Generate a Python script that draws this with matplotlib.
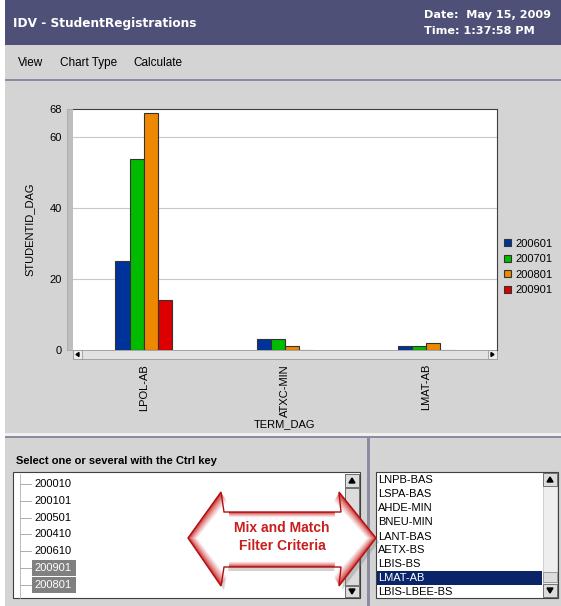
import numpy as np
import matplotlib
matplotlib.use("Agg")
import matplotlib.pyplot as plt
from matplotlib.patches import Rectangle, Polygon
from matplotlib.colors import to_rgb

# chart data
terms = ["LPOL-AB", "ATXC-MIN", "LMAT-AB"]
series = ["200601", "200701", "200801", "200901"]
v_200601 = [25, 3, 1]
v_200701 = [54, 3, 1]
v_200801 = [67, 1, 2]
v_200901 = [14, 0, 0]
colors = ["#003399", "#00BB00", "#EE8800", "#DD0000"]
yticks = [0, 20, 40, 60, 68]

# filter lists
left_items = ["200010", "200101", "200501", "200410", "200610", "200901", "200801"]
left_selected = ["200901", "200801"]
right_items = ["LNPB-BAS", "LSPA-BAS", "AHDE-MIN", "BNEU-MIN", "LANT-BAS",
               "AETX-BS", "LBIS-BS", "LMAT-AB", "LBIS-LBEE-BS"]
right_selected = "LMAT-AB"

W, H = 561, 606
SANS = "Liberation Sans"
PANEL = "#D4D4D4"

fig = plt.figure(figsize=(W / 100, H / 100), dpi=100, facecolor="white")

# background axes in pixel coordinates for the window chrome
bg = fig.add_axes([0, 0, 1, 1])
bg.set_xlim(0, W)
bg.set_ylim(H, 0)
bg.axis("off")


def rect(x0, y0, x1, y1, fc, ec="none", lw=0, z=1):
    bg.add_patch(Rectangle((x0, y0), x1 - x0, y1 - y0, facecolor=fc,
                           edgecolor=ec, linewidth=lw, zorder=z))


# header
rect(5, 0, W, 45, "#4F5078")
bg.text(13, 23, "IDV - StudentRegistrations", color="white", fontsize=8.7,
        fontweight="bold", va="center", family="DejaVu Sans")
bg.text(424, 15, "Date:  May 15, 2009", color="white", fontsize=8.1,
        fontweight="bold", va="center", family="DejaVu Sans")
bg.text(424, 31, "Time: 1:37:58 PM", color="white", fontsize=8.1,
        fontweight="bold", va="center", family="DejaVu Sans")

# menu bar
rect(5, 45, W, 79, PANEL)
for x, s in [(18, "View"), (60, "Chart Type"), (133, "Calculate")]:
    bg.text(x, 63, s, fontsize=8.5, va="center", family=SANS)
rect(5, 79, W, 81, "#8C8CA0")

# chart panel
rect(5, 81, W, 433, PANEL)
rect(5, 433, W, 436, "#F0F0F0")
rect(5, 436, W, 438, "#8C8CA0")

# bottom panels
rect(5, 438, 367, H, PANEL)
rect(367, 438, 370, H, "#8C8CA0")
rect(370, 438, W, H, PANEL)

# y-axis wall and horizontal scroll bar under the plot
rect(67, 109, 73, 350, "#BDBDBD", ec="#A0A0A0", lw=0.5)
rect(73, 350, 497, 359, "#E2E2E2", ec="#9A9A9A", lw=0.6)
rect(73, 350, 82, 359, "#EDEDED", ec="#9A9A9A", lw=0.6, z=2)
rect(488, 350, 497, 359, "#EDEDED", ec="#9A9A9A", lw=0.6, z=2)
bg.add_patch(Polygon([(76, 354.5), (79, 352.5), (79, 356.5)], color="black", zorder=3))
bg.add_patch(Polygon([(494, 354.5), (491, 352.5), (491, 356.5)], color="black", zorder=3))

# bar chart
ax = fig.add_axes([73 / W, 1 - 350 / H, 424 / W, 241 / H])
ax.set_facecolor("white")
x = np.arange(len(terms))
width = 0.1
handles = []
for i, (name, vals) in enumerate(zip(series, [v_200601, v_200701, v_200801, v_200901])):
    b = ax.bar(x + (i - 1.5) * width, vals, width, color=colors[i],
               edgecolor="#333333", linewidth=0.8, zorder=3, label=name)
    handles.append(b)
ax.set_xlim(-0.5, 2.5)
ax.set_ylim(0, 68)
ax.set_yticks(yticks)
ax.set_yticklabels([str(t) for t in yticks], fontsize=8, family=SANS)
ax.set_xticks(x)
ax.set_xticklabels(terms, rotation=90, fontsize=8, family=SANS, va="top")
ax.tick_params(axis="y", length=0, pad=8)
ax.tick_params(axis="x", length=0, pad=10)
for t in [20, 40, 60]:
    ax.axhline(t, color="#C8C8C8", linewidth=0.8, zorder=1)
for side in ["top", "right"]:
    ax.spines[side].set_color("#404040")
    ax.spines[side].set_linewidth(0.8)
ax.spines["left"].set_visible(False)
ax.spines["bottom"].set_visible(False)
ax.set_ylabel("STUDENTID_DAG", fontsize=8, family=SANS)
ax.yaxis.set_label_coords(-0.09, 0.5)
ax.set_xlabel("TERM_DAG", fontsize=8, family=SANS)
ax.xaxis.set_label_coords(0.5, -0.286)

leg = ax.legend(handles, series, loc="center left", frameon=False,
                bbox_to_anchor=(504 / W, 1 - 267 / H), bbox_transform=fig.transFigure,
                prop={"family": SANS, "size": 8}, handlelength=0.6, handleheight=0.6,
                handletextpad=0.45, labelspacing=0.5, borderpad=0, borderaxespad=0)

# left filter list
bg.text(16, 461, "Select one or several with the Ctrl key", fontsize=8,
        fontweight="bold", va="center", family=SANS)
rect(13, 472, 360, 598, "white", ec="#404040", lw=0.8)
bg.plot([20, 20], [474, 598], color="#B0B0B0", lw=0.6, zorder=3)
item_y = [484, 501, 518, 534, 551, 568, 585]
for yy, s in zip(item_y, left_items):
    bg.plot([20, 31], [yy, yy], color="#A0A0A0", lw=0.6, zorder=3)
    if s in left_selected:
        rect(32, yy - 8, 76, yy + 8, "#808080", z=3)
        bg.text(34, yy, s, fontsize=8, va="center", color="white", family=SANS, zorder=4)
    else:
        bg.text(34, yy, s, fontsize=8, va="center", family=SANS, zorder=4)
# left scroll bar
rect(345, 474, 359, 597, "#E8E8E8", ec="#808080", lw=0.5, z=4)
rect(345, 474, 359, 487, "#DCDCDC", ec="#606060", lw=0.6, z=5)
rect(345, 488, 359, 585, "#DCDCDC", ec="#606060", lw=0.6, z=5)
rect(345, 586, 359, 597, "#DCDCDC", ec="#606060", lw=0.6, z=5)
bg.add_patch(Polygon([(352, 478), (349, 483), (355, 483)], color="black", zorder=6))
bg.add_patch(Polygon([(352, 594), (349, 589), (355, 589)], color="black", zorder=6))

# right filter list
rect(376, 472, 558, 598, "white", ec="#404040", lw=0.8)
right_y = [480, 494, 508, 522, 537, 550, 564, 578, 592]
for yy, s in zip(right_y, right_items):
    if s == right_selected:
        rect(377, yy - 7, 542, yy + 7, "#0A246A", z=3)
        bg.text(378, yy, s, fontsize=8, va="center", color="white", family=SANS, zorder=4)
    else:
        bg.text(378, yy, s, fontsize=8, va="center", family=SANS, zorder=4)
rect(543, 473, 557, 597, "#EEEEEE", ec="#C0C0C0", lw=0.5, z=4)
rect(543, 473, 557, 486, "#DCDCDC", ec="#606060", lw=0.6, z=5)
rect(543, 572, 557, 582, "#DCDCDC", ec="#909090", lw=0.6, z=5)
rect(543, 584, 557, 597, "#DCDCDC", ec="#606060", lw=0.6, z=5)
bg.add_patch(Polygon([(550, 477), (547, 482), (553, 482)], color="black", zorder=6))
bg.add_patch(Polygon([(550, 593), (547, 588), (553, 588)], color="black", zorder=6))

# red double arrow callout
cx, cy = 282, 539
arrow = np.array([(188, 538), (221, 492), (224, 512), (341, 512), (339, 492),
                  (376, 538), (339, 586), (341, 567), (224, 567), (221, 586)], float)
bg.add_patch(Polygon(arrow + [3, 4], closed=True, facecolor="#808080", alpha=0.35,
                     edgecolor="none", zorder=6))
red = np.array(to_rgb("#C81C1C"))
white = np.ones(3)
n_layers = 14
for k in range(n_layers):
    d = k * 0.7  # inset in pixels
    f = (k / (n_layers - 1)) ** 0.7
    c = red * (1 - f) + white * f
    sx = 1 - d / 94
    sy = 1 - d / 47
    pts = np.column_stack([cx + (arrow[:, 0] - cx) * sx, cy + (arrow[:, 1] - cy) * sy])
    bg.add_patch(Polygon(pts, closed=True, facecolor=c, edgecolor="none", zorder=7 + k * 0.01))
bg.add_patch(Polygon(arrow, closed=True, facecolor="none", edgecolor="#B01010",
                     linewidth=1.0, zorder=8))
bg.text(cx, 528, "Mix and Match", fontsize=10, fontweight="bold", color="#C81E1E",
        ha="center", va="center", family=SANS, zorder=9)
bg.text(cx, 546, "Filter Criteria", fontsize=10, fontweight="bold", color="#C81E1E",
        ha="center", va="center", family=SANS, zorder=9)

fig.savefig("out.png", dpi=100, facecolor=fig.get_facecolor())
